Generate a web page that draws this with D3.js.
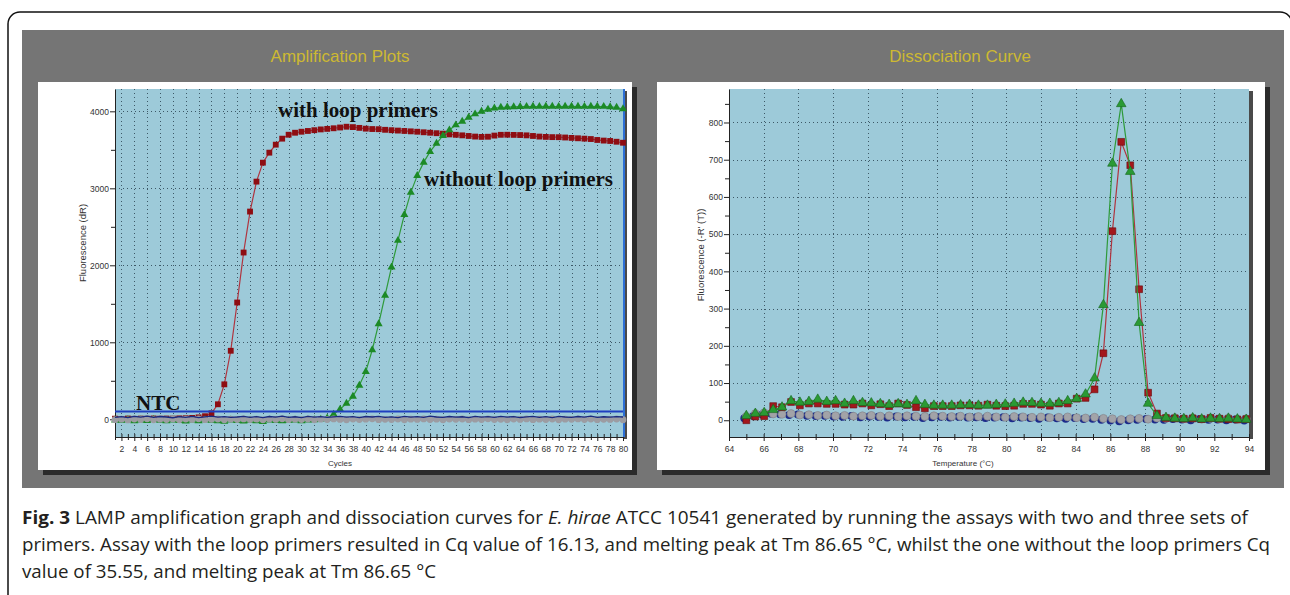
<!DOCTYPE html>
<html>
<head>
<meta charset="utf-8">
<script src="https://cdn.jsdelivr.net/npm/d3@7"></script>
<style>
  body { margin: 0; background: #fff; }
  svg { display: block; }
</style>
</head>
<body>
<svg id="fig"></svg>
<script>
// ---------- DATA ----------
// amplification plot (cycles 1..80)
const cycles = [1,2,3,4,5,6,7,8,9,10,11,12,13,14,15,16,17,18,19,20,
  21,22,23,24,25,26,27,28,29,30,31,32,33,34,35,36,37,38,39,40,
  41,42,43,44,45,46,47,48,49,50,51,52,53,54,55,56,57,58,59,60,
  61,62,63,64,65,66,67,68,69,70,71,72,73,74,75,76,77,78,79,80];

const withLoop = [8,5,10,6,9,7,11,8,10,9,12,14,18,25,40,78,195,454,890,1517,
  2166,2698,3087,3333,3463,3567,3645,3696,3722,3735,3745,3755,3765,3772,3780,3790,3800,3795,3785,3775,
  3770,3768,3760,3755,3750,3745,3740,3735,3728,3722,3716,3710,3700,3695,3688,3680,3672,3668,3670,3685,
  3695,3696,3694,3692,3688,3680,3672,3668,3665,3664,3660,3655,3650,3645,3640,3628,3620,3615,3605,3592];

const withoutLoop = [-10,-15,-8,-20,-12,-18,-5,-15,-22,-10,-18,-25,-12,-20,-8,-15,-22,-28,-10,-18,
  -25,-15,-20,-30,-12,-18,-22,-15,-10,-20,-12,-8,0,15,65,130,207,298,441,620,
  900,1240,1608,1976,2322,2659,2948,3165,3337,3476,3584,3684,3757,3822,3869,3921,3965,3999,4025,4042,
  4050,4055,4058,4060,4062,4063,4062,4064,4063,4062,4064,4065,4063,4062,4064,4063,4062,4058,4050,4030];

const ntcGrayAmp = [-5,2,-8,4,-3,6,-6,1,-4,5,-7,3,-2,6,-5,0,4,-6,2,-3,
  5,-4,1,-7,3,-2,6,-5,2,-4,4,-6,1,-3,5,-2,-6,3,-4,2,
  6,-5,0,-3,4,-7,2,-2,5,-4,1,-6,3,-1,4,-5,2,-3,6,-4,
  0,-6,3,-2,5,-5,1,-3,4,-6,2,-1,5,-4,3,-5,0,-2,4,-6];

const ntcNavyAmp = [25,35,22,38,28,40,24,36,30,20,34,26,38,22,32,40,28,35,24,30,
  38,26,34,22,36,28,40,25,33,21,37,29,35,24,31,39,27,34,23,36,
  30,38,26,32,22,37,28,35,25,40,30,24,36,28,33,21,38,27,34,25,
  39,29,35,23,31,37,26,34,22,38,30,25,36,28,40,24,33,27,35,30];

const threshold = 100;

// dissociation curve
const temps = [65.00,65.52,66.03,66.55,67.06,67.58,68.09,68.61,69.12,69.64,
  70.15,70.67,71.18,71.70,72.21,72.73,73.24,73.76,74.27,74.79,
  75.30,75.82,76.33,76.85,77.36,77.88,78.39,78.91,79.42,79.94,
  80.45,80.97,81.48,82.00,82.51,83.03,83.54,84.06,84.57,85.09,
  85.60,86.12,86.63,87.15,87.66,88.18,88.69,89.21,89.72,90.24,
  90.75,91.27,91.78,92.30,92.81,93.33,93.84];

const meltWithLoop = [0,10,11,38,35,49,40,45,45,44,
  44,42,42,45,40,43,38,45,41,35,
  32,38,38,38,40,40,39,42,39,38,
  39,44,44,42,39,45,45,58,60,83,
  180,508,748,685,352,74,18,6,5,4,
  5,3,6,4,3,2,3];

const meltWithoutLoop = [12,18,20,28,35,52,48,50,56,50,
  52,45,52,47,46,44,42,44,42,52,
  42,40,40,40,41,42,40,40,42,43,
  45,48,47,45,45,47,52,58,70,113,
  310,690,850,668,262,45,12,7,5,4,
  6,3,5,4,5,3,2];

const ntcGrayMelt = [10,18,20,17,16,18,14,15,13,14,
  12,13,11,12,13,11,12,10,12,11,
  10,12,11,10,11,9,10,11,9,8,
  10,9,8,9,7,8,9,7,6,8,
  5,4,2,4,5,3,6,5,7,4,
  6,3,5,4,6,3,4];

const ntcNavyMelt = [8,14,18,20,19,17,18,15,14,15,
  13,12,14,11,13,12,10,13,11,12,
  9,11,12,10,12,10,11,9,10,11,
  8,10,9,7,10,8,7,9,6,7,
  4,2,0,3,4,6,5,4,6,5,
  3,6,4,5,3,5,2];

// ticks
const ampXTicks = [2,4,6,8,10,12,14,16,18,20,22,24,26,28,30,32,34,36,38,40,
  42,44,46,48,50,52,54,56,58,60,62,64,66,68,70,72,74,76,78,80];
const ampYTicks = [0,1000,2000,3000,4000];
const ampYMinor = [500,1500,2500,3500];
const meltXTicks = [64,66,68,70,72,74,76,78,80,82,84,86,88,90,92,94];
const meltXMinor = [65,67,69,71,73,75,77,79,81,83,85,87,89,91,93];
const meltYTicks = [0,100,200,300,400,500,600,700,800];
const meltYMinor = [50,150,250,350,450,550,650,750,850];

// ---------- SETUP ----------
const svg = d3.select("#fig").attr("width", 1290).attr("height", 595);
const sans = "'Liberation Sans', Arial, sans-serif";
const serif = "'Liberation Serif', 'Times New Roman', serif";

// outer frame
svg.append("rect")
  .attr("x", 8).attr("y", 12).attr("width", 1284).attr("height", 600)
  .attr("rx", 12).attr("fill", "none").attr("stroke", "#111").attr("stroke-width", 1.5);

// gray background
svg.append("rect")
  .attr("x", 22).attr("y", 30).attr("width", 1262).attr("height", 458)
  .attr("fill", "#757575");

const titleColor = "#cdb932";
const gridColor = "#2d4654";

function panel(p) {
  // shadow + white card
  svg.append("rect").attr("x", p.card[0] + 5).attr("y", p.card[1] + 5)
    .attr("width", p.card[2]).attr("height", p.card[3]).attr("fill", "#2b2b2b");
  svg.append("rect").attr("x", p.card[0]).attr("y", p.card[1])
    .attr("width", p.card[2]).attr("height", p.card[3]).attr("fill", "#fff");

  // title
  svg.append("text").attr("x", p.titleX).attr("y", 62)
    .attr("text-anchor", "middle").attr("font-family", sans).attr("font-size", 17)
    .attr("fill", titleColor).text(p.title);

  const x = p.x, y = p.y;
  const [x0, x1] = x.range();
  const [y1, y0] = y.range();

  // plot area
  svg.append("rect").attr("x", x1).attr("y", y0 + 2).attr("width", 4).attr("height", y1 - y0)
    .attr("fill", "#4a4a4a");
  svg.append("rect").attr("x", x0).attr("y", y0).attr("width", x1 - x0).attr("height", y1 - y0)
    .attr("fill", "#9dcad9");

  // grid
  const g = svg.append("g").attr("stroke", gridColor).attr("stroke-width", 1)
    .attr("stroke-dasharray", "1,3").attr("opacity", 0.85);
  g.selectAll(".vg").data(p.vGrid).enter().append("line")
    .attr("x1", d => Math.round(x(d)) + 0.5).attr("x2", d => Math.round(x(d)) + 0.5)
    .attr("y1", y0).attr("y2", y1);
  g.selectAll(".hg").data(p.hGrid).enter().append("line")
    .attr("y1", d => Math.round(y(d)) + 0.5).attr("y2", d => Math.round(y(d)) + 0.5)
    .attr("x1", x0).attr("x2", x1);

  // axes
  const ya = svg.append("g").attr("transform", `translate(${x0},0)`)
    .call(d3.axisLeft(y).tickValues(p.yTicks).tickSize(5).tickPadding(p.yPad)
      .tickSizeOuter(0).tickFormat(d3.format("d")));
  const yb = svg.append("g").attr("transform", `translate(${x0},0)`)
    .call(d3.axisLeft(y).tickValues(p.yMinor).tickSize(4).tickSizeOuter(0).tickFormat(""));
  yb.select(".domain").remove();

  const xa = svg.append("g").attr("transform", `translate(0,${y1})`)
    .call(d3.axisBottom(x).tickValues(p.xTicks).tickSize(4).tickSizeOuter(0).tickFormat(d3.format("d")));
  const xb = svg.append("g").attr("transform", `translate(0,${y1})`)
    .call(d3.axisBottom(x).tickValues(p.xMinor).tickSize(3).tickSizeOuter(0).tickFormat(""));
  xb.select(".domain").remove();
  xa.selectAll(".tick line").attr("y1", -3);
  xb.selectAll(".tick line").attr("y1", -3);

  [ya, yb, xa, xb].forEach(a => {
    a.selectAll("text").attr("font-family", sans).attr("font-size", 8.5).attr("fill", "#333");
    a.selectAll("line").attr("stroke", "#222");
    a.select(".domain").attr("stroke", "#222");
  });
  xa.selectAll("text").attr("dy", "0.9em");

  // axis labels
  svg.append("text").attr("x", p.xLabelX).attr("y", 466).attr("text-anchor", "middle")
    .attr("font-family", sans).attr("font-size", 8).attr("fill", "#333").text(p.xLabel);
  svg.append("text")
    .attr("transform", `translate(${p.yLabelX},${p.yLabelY}) rotate(-90)`)
    .attr("text-anchor", "middle").attr("font-family", sans).attr("font-size", 9.5)
    .attr("fill", "#333").text(p.yLabel);
}

// ---------- AMPLIFICATION PLOT ----------
const xA = d3.scaleLinear().domain([1, 80]).range([115, 623]);
const yA = d3.scaleLinear().domain([-230, 4290]).range([437, 89]);

panel({
  card: [38, 82, 594, 388], title: "Amplification Plots", titleX: 340,
  x: xA, y: yA, vGrid: ampXTicks, hGrid: [1000, 2000, 3000, 4000],
  yTicks: ampYTicks, yMinor: ampYMinor, yPad: 1, xTicks: ampXTicks, xMinor: cycles.filter(c => c % 2 === 1),
  xLabel: "Cycles", xLabelX: 340, yLabel: "Fluorescence (dR)", yLabelX: 86, yLabelY: 243
});

// right edge cursor
svg.append("line").attr("x1", 624).attr("x2", 624).attr("y1", 89).attr("y2", 437)
  .attr("stroke", "#2c6fd6").attr("stroke-width", 2);

const ampLine = vals => d3.line().x((d, i) => xA(cycles[i])).y(d => yA(d))(vals);

function ampSeries(vals, lineColor, fill, symbol, size) {
  svg.append("path").attr("d", ampLine(vals)).attr("fill", "none")
    .attr("stroke", lineColor).attr("stroke-width", 1.2);
  svg.append("g").selectAll("path").data(vals).enter().append("path")
    .attr("transform", (d, i) => `translate(${xA(cycles[i])},${yA(d)})`)
    .attr("d", d3.symbol().type(symbol).size(size)())
    .attr("fill", fill);
}

ampSeries(withLoop, "#b0343f", "#8e0d12", d3.symbolSquare, 34);
ampSeries(withoutLoop, "#2e9a3a", "#1c8a26", d3.symbolTriangle, 28);

// NTC traces
svg.append("path").attr("d", ampLine(ntcGrayAmp)).attr("fill", "none")
  .attr("stroke", "#8f8f96").attr("stroke-width", 2.5);
svg.append("g").selectAll("circle").data(ntcGrayAmp).enter().append("circle")
  .attr("cx", (d, i) => xA(cycles[i])).attr("cy", d => yA(d)).attr("r", 3.4)
  .attr("fill", "#9c9ca2");
svg.append("path").attr("d", ampLine(ntcNavyAmp)).attr("fill", "none")
  .attr("stroke", "#1b2a80").attr("stroke-width", 1.3);

// threshold
svg.append("line").attr("x1", 115).attr("x2", 623)
  .attr("y1", yA(threshold)).attr("y2", yA(threshold))
  .attr("stroke", "#1f3fc0").attr("stroke-width", 2);

// annotations
const ann = svg.append("g").attr("font-family", serif).attr("font-weight", "bold")
  .attr("font-size", 21).attr("fill", "#111");
ann.append("text").attr("x", 278).attr("y", 117).text("with loop primers");
ann.append("text").attr("x", 424).attr("y", 186).text("without loop primers");
ann.append("text").attr("x", 136).attr("y", 410).text("NTC");

// ---------- DISSOCIATION CURVE ----------
const xM = d3.scaleLinear().domain([64, 94]).range([729, 1249]);
const yM = d3.scaleLinear().domain([-45, 890]).range([437, 89]);

panel({
  card: [657, 82, 608, 388], title: "Dissociation Curve", titleX: 960,
  x: xM, y: yM, vGrid: meltXTicks.filter(t => t > 64 && t < 94), hGrid: meltYTicks,
  yTicks: meltYTicks, yMinor: meltYMinor, yPad: 1, xTicks: meltXTicks, xMinor: meltXMinor,
  xLabel: "Temperature (\u00B0C)", xLabelX: 963, yLabel: "Fluorescence (-R' (T))", yLabelX: 704, yLabelY: 255
});

const meltLine = vals => d3.line().x((d, i) => xM(temps[i])).y(d => yM(d))(vals);

// NTC crescents
svg.append("g").attr("transform", "translate(-2,1)").selectAll("circle").data(ntcNavyMelt).enter()
  .append("circle").attr("cx", (d, i) => xM(temps[i])).attr("cy", d => yM(d)).attr("r", 4)
  .attr("fill", "#1c2a8a");
svg.append("g").selectAll("circle").data(ntcGrayMelt).enter()
  .append("circle").attr("cx", (d, i) => xM(temps[i])).attr("cy", d => yM(d)).attr("r", 4)
  .attr("fill", "#a2a3a8").attr("stroke", "#7d7f86").attr("stroke-width", 0.6);

function meltSeries(vals, lineColor, fill, stroke, symbol, size) {
  svg.append("path").attr("d", meltLine(vals)).attr("fill", "none")
    .attr("stroke", lineColor).attr("stroke-width", 1.2);
  svg.append("g").selectAll("path").data(vals).enter().append("path")
    .attr("transform", (d, i) => `translate(${xM(temps[i])},${yM(d)})`)
    .attr("d", d3.symbol().type(symbol).size(size)())
    .attr("fill", fill).attr("stroke", stroke).attr("stroke-width", 0.6);
}

meltSeries(meltWithLoop, "#b0343f", "#a3171c", "#6a0a0e", d3.symbolSquare, 46);
meltSeries(meltWithoutLoop, "#2e9a3a", "#2a9a34", "#16651c", d3.symbolTriangle, 40);

// ---------- CAPTION ----------
const cap = svg.append("g").attr("font-family", "'Open Sans', 'Noto Sans', sans-serif")
  .attr("font-size", 18.5).attr("fill", "#231f20");
const l1 = cap.append("text").attr("x", 22).attr("y", 524)
  .attr("textLength", 1226).attr("lengthAdjust", "spacingAndGlyphs");
l1.append("tspan").attr("font-weight", "bold").text("Fig. 3");
l1.append("tspan").text(" LAMP amplification graph and dissociation curves for ");
l1.append("tspan").attr("font-style", "italic").text("E. hirae");
l1.append("tspan").text(" ATCC 10541 generated by running the assays with two and three sets of");
cap.append("text").attr("x", 22).attr("y", 551)
  .attr("textLength", 1248).attr("lengthAdjust", "spacingAndGlyphs")
  .text("primers. Assay with the loop primers resulted in Cq value of 16.13, and melting peak at Tm 86.65 \u00B0C, whilst the one without the loop primers Cq");
cap.append("text").attr("x", 22).attr("y", 578)
  .attr("textLength", 414).attr("lengthAdjust", "spacingAndGlyphs")
  .text("value of 35.55, and melting peak at Tm 86.65 \u00B0C");
</script>
</body>
</html>
